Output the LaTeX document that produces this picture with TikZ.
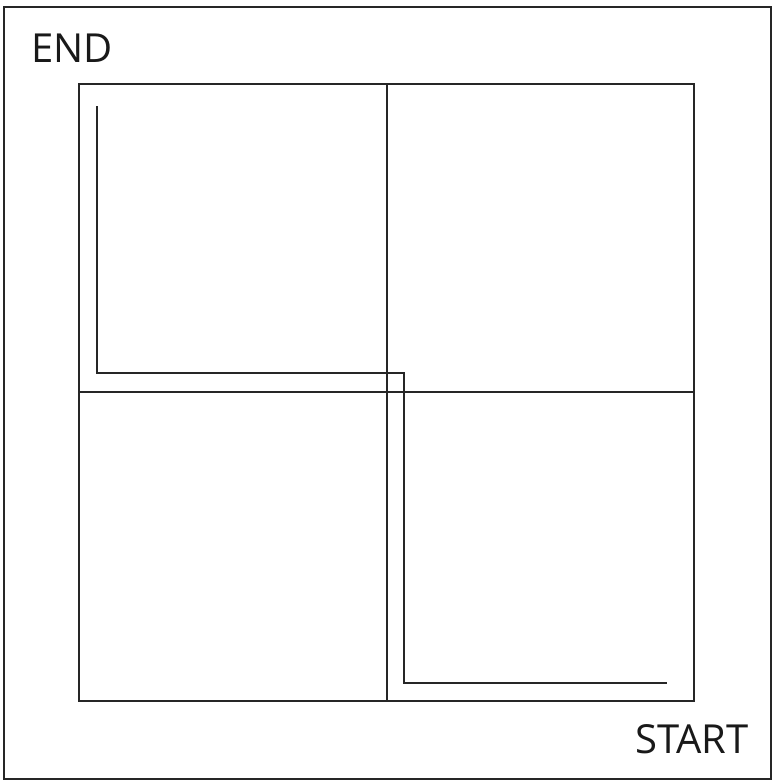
\documentclass[tikz,border=0pt]{standalone}
\usepackage{fontspec}
\setmainfont{Open Sans}
\begin{document}
\begin{tikzpicture}[x=1pt,y=-1pt,
  frameline/.style={line width=2pt,draw=black!85},
  pathline/.style={line width=2pt,draw=black!85},
  label/.style={inner sep=0pt,font=\fontsize{40}{40}\selectfont,text=black!90}]
\useasboundingbox (0,0) rectangle (772,780);
\draw[frameline] (4,7) rectangle (771,779);
\draw[frameline] (78.5,84) rectangle (694,700.5);
\draw[frameline] (386.5,84) -- (386.5,700.5);
\draw[frameline] (78.5,391.5) -- (694,391.5);
\draw[pathline] (97,106) -- (97,372.5) -- (404,372.5) -- (404,682.5) -- (667,682.5);
\node[label,anchor=base west] (endlbl) at (31,62) {END};
\node[label,anchor=base east] (startlbl) at (749,753) {START};
\end{tikzpicture}
\end{document}
